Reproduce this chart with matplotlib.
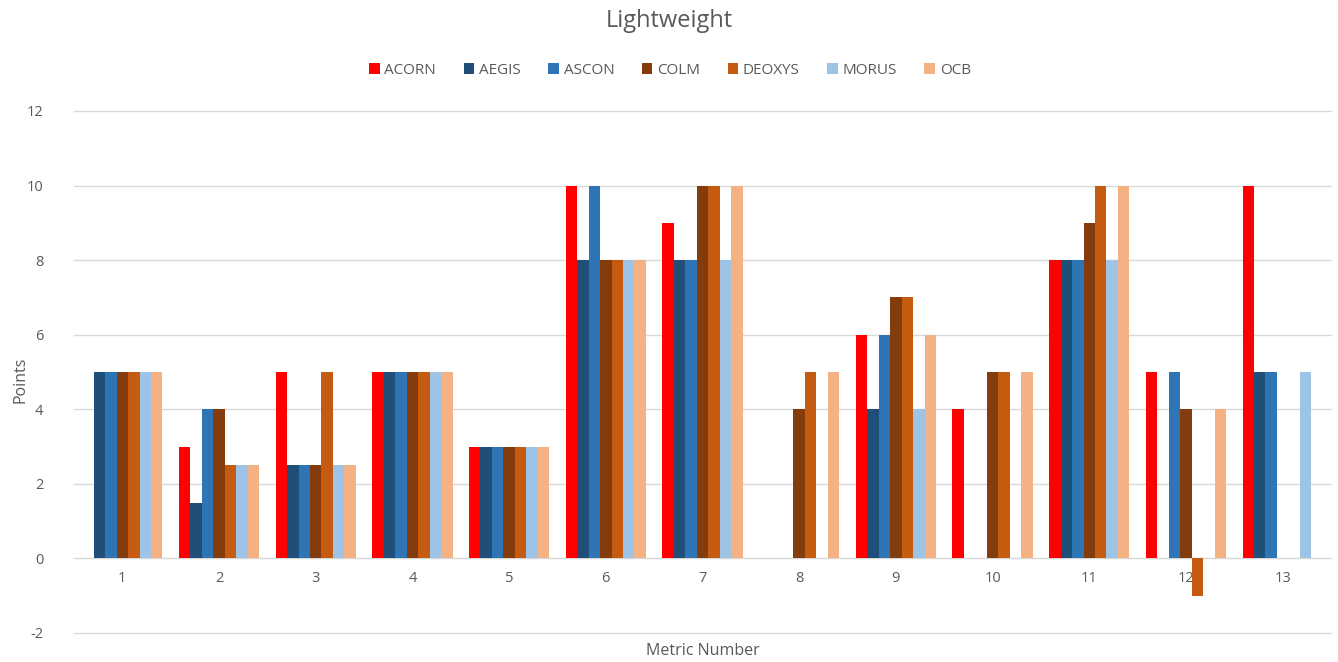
import numpy as np
import matplotlib
matplotlib.use("Agg")
import matplotlib.pyplot as plt

plt.rcParams['font.family'] = ['Open Sans', 'DejaVu Sans']
plt.rcParams['axes.unicode_minus'] = False

metrics = [str(i) for i in range(1, 14)]
schemes = ['ACORN', 'AEGIS', 'ASCON', 'COLM', 'DEOXYS', 'MORUS', 'OCB']
colors = ['#FF0000', '#1F4E79', '#2E75B6', '#843C0C', '#C55A11', '#9DC3E6', '#F4B183']

acorn  = [0, 3, 5, 5, 3, 10, 9, 0, 6, 4, 8, 5, 10]
aegis  = [5, 1.5, 2.5, 5, 3, 8, 8, 0, 4, 0, 8, 0, 5]
ascon  = [5, 4, 2.5, 5, 3, 10, 8, 0, 6, 0, 8, 5, 5]
colm   = [5, 4, 2.5, 5, 3, 8, 10, 4, 7, 5, 9, 4, 0]
deoxys = [5, 2.5, 5, 5, 3, 8, 10, 5, 7, 5, 10, -1, 0]
morus  = [5, 2.5, 2.5, 5, 3, 8, 8, 0, 4, 0, 8, 0, 5]
ocb    = [5, 2.5, 2.5, 5, 3, 8, 10, 5, 6, 5, 10, 4, 0]
series = [acorn, aegis, ascon, colm, deoxys, morus, ocb]

fig = plt.figure(figsize=(13.38, 6.62), dpi=100)
ax = fig.add_axes([74/1338, 1-633/662, (1331-74)/1338, (633-111)/662])

x = np.arange(1, 14)
n = len(schemes)
w = 0.83 / n
for i, (name, vals, c) in enumerate(zip(schemes, series, colors)):
    ax.bar(x + (i - (n - 1) / 2) * w, vals, width=w, color=c, label=name, zorder=3)

ax.set_xlim(0.5, 13.5)
ax.set_ylim(-2, 12)
ax.set_yticks(range(-2, 13, 2))
ax.set_xticks(x)
ax.set_xticklabels(metrics)
ax.grid(axis='y', color='#D9D9D9', linewidth=1, zorder=0)
for gl in ax.get_ygridlines():
    gl.set_clip_on(False)
for s in ['top', 'right', 'left']:
    ax.spines[s].set_visible(False)
ax.spines['bottom'].set_position(('data', 0))
ax.spines['bottom'].set_color('#D9D9D9')
ax.tick_params(axis='both', length=0, labelsize=10.5, colors='#595959')
ax.tick_params(axis='x', pad=9)
ax.tick_params(axis='y', pad=22)

fig.text(703/1338, 1-651/662, 'Metric Number', ha='center', va='center', fontsize=11.5, color='#595959')
fig.text(20/1338, 1-380/662, 'Points', ha='center', va='center', rotation=90, fontsize=11.5, color='#595959')

fig.text(0.5, 1-21/662, 'Lightweight', ha='center', va='center', fontsize=17, color='#595959')
leg = fig.legend(loc='center', bbox_to_anchor=(670/1338, 1-70/662), ncol=7, frameon=False,
                 fontsize=11, handlelength=0.7, handleheight=0.7, handletextpad=0.3,
                 columnspacing=1.8)
for t in leg.get_texts():
    t.set_color('#595959')

fig.savefig('out.png', dpi=100)
